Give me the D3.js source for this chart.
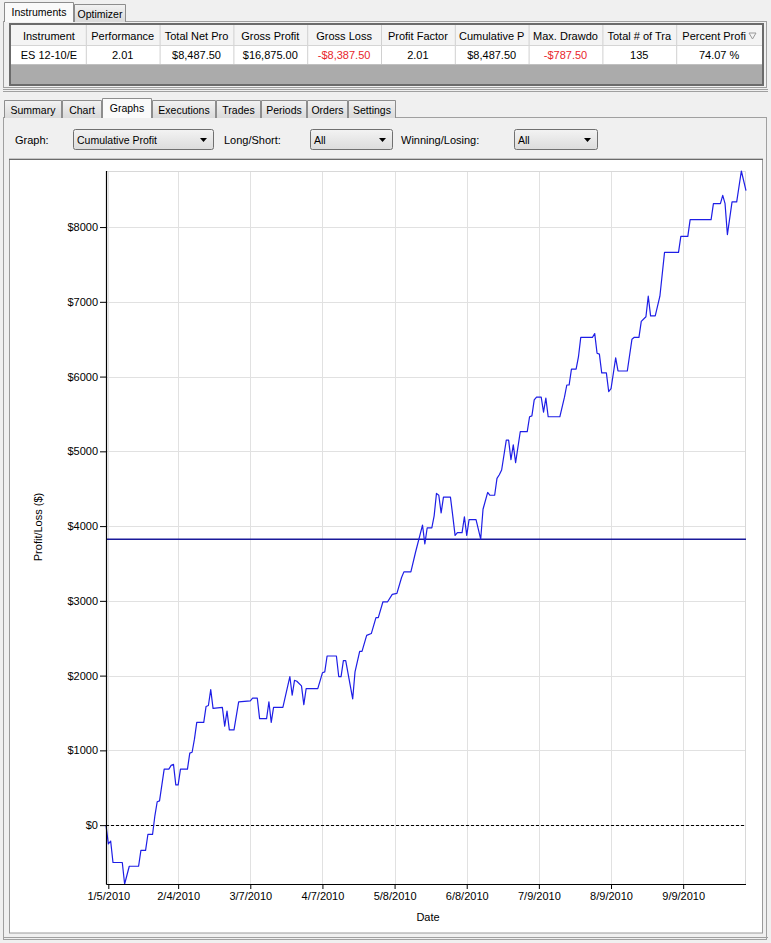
<!DOCTYPE html>
<html>
<head>
<meta charset="utf-8">
<script src="https://cdn.jsdelivr.net/npm/d3@7"></script>
<style>
  body { margin: 0; background: #f0f0f0; }
  svg { display: block; font-family: "Liberation Sans", Arial, sans-serif; }
</style>
</head>
<body>
<div id="app"></div>
<script>
// ---- data ----
const tradeDates = [
  "2010-01-04","2010-01-05","2010-01-06","2010-01-07","2010-01-11","2010-01-12","2010-01-14","2010-01-18",
  "2010-01-19","2010-01-21","2010-01-22","2010-01-24","2010-01-25","2010-01-26","2010-01-27","2010-01-29",
  "2010-01-31","2010-02-01","2010-02-02","2010-02-03","2010-02-04","2010-02-05","2010-02-08","2010-02-09",
  "2010-02-10","2010-02-11","2010-02-12","2010-02-15","2010-02-16","2010-02-17","2010-02-18","2010-02-19",
  "2010-02-23","2010-02-24","2010-02-25","2010-02-26","2010-02-28","2010-03-02","2010-03-07","2010-03-08",
  "2010-03-10","2010-03-11","2010-03-14","2010-03-15","2010-03-16","2010-03-17","2010-03-21","2010-03-24",
  "2010-03-25","2010-03-26","2010-03-27","2010-03-29","2010-03-30","2010-03-31","2010-04-05","2010-04-07",
  "2010-04-08","2010-04-09","2010-04-13","2010-04-14","2010-04-15","2010-04-16","2010-04-17","2010-04-20",
  "2010-04-21","2010-04-23","2010-04-24","2010-04-26","2010-04-28","2010-04-30","2010-05-01","2010-05-03",
  "2010-05-05","2010-05-07","2010-05-09","2010-05-11","2010-05-12","2010-05-15","2010-05-17","2010-05-20",
  "2010-05-21","2010-05-22","2010-05-24","2010-05-25","2010-05-26","2010-05-27","2010-05-28","2010-05-29",
  "2010-06-01","2010-06-02","2010-06-03","2010-06-04","2010-06-06","2010-06-07","2010-06-08","2010-06-09",
  "2010-06-12","2010-06-14","2010-06-15","2010-06-17","2010-06-18","2010-06-20","2010-06-21","2010-06-22",
  "2010-06-23","2010-06-25","2010-06-26","2010-06-27","2010-06-28","2010-06-29","2010-07-01","2010-07-04",
  "2010-07-05","2010-07-06","2010-07-07","2010-07-08","2010-07-10","2010-07-11","2010-07-12","2010-07-13",
  "2010-07-18","2010-07-20","2010-07-21","2010-07-22","2010-07-23","2010-07-25","2010-07-26","2010-07-27",
  "2010-08-01","2010-08-02","2010-08-03","2010-08-04","2010-08-05","2010-08-07","2010-08-08","2010-08-09",
  "2010-08-11","2010-08-12","2010-08-16","2010-08-18","2010-08-19","2010-08-21","2010-08-22","2010-08-24",
  "2010-08-25","2010-08-26","2010-08-28","2010-08-30","2010-09-01","2010-09-07","2010-09-08","2010-09-11",
  "2010-09-12","2010-09-21","2010-09-22","2010-09-25","2010-09-26","2010-09-27","2010-09-28","2010-09-30",
  "2010-10-02","2010-10-04","2010-10-06"
];
const cumProfit = [
  0,-250,-212.5,-500,-500,-787.5,-550,-550,
  -337.5,-337.5,-125,-125,125,312.5,325,750,
  750,800,812.5,537.5,537.5,750,750,962.5,
  975,1150,1375,1375,1587.5,1600,1812.5,1562.5,
  1575,1325,1525,1275,1275,1650,1662.5,1700,
  1700,1425,1425,1650,1375,1575,1575,1987.5,
  1737.5,1937.5,1925,1862.5,1612.5,1825,1825,2037.5,
  2050,2262.5,2262.5,1987.5,1987.5,2200,2200,1687.5,
  2050,2325,2325,2537.5,2562.5,2775,2775,2987.5,
  2987.5,3087.5,3100,3312.5,3387.5,3387.5,3650,4012.5,
  3762.5,3975,3975,4137.5,4437.5,4412.5,4175,4387.5,
  4387.5,4137.5,3875,3912.5,3912.5,4125,3875,4087.5,
  4087.5,3825,4225,4450,4412.5,4412.5,4637.5,4687.5,
  4750,5150,5150,4887.5,5087.5,4850,5262.5,5262.5,
  5462.5,5475,5687.5,5725,5725,5525,5712.5,5462.5,
  5462.5,5725,5887.5,5887.5,6100,6100,6262.5,6525,
  6525,6575,6312.5,6300,6050,6050,5800,5837.5,
  6250,6075,6075,6500,6525,6525,6737.5,6800,
  7075,6812.5,6812.5,7075,7662.5,7662.5,7875,7875,
  8100,8100,8312.5,8312.5,8425,8312.5,7900,8337.5,
  8337.5,8750,8487.5
];
const referenceLevel = 3825;
const xTickLabels = ["1/5/2010","2/4/2010","3/7/2010","4/7/2010","5/8/2010","6/8/2010","7/9/2010","8/9/2010","9/9/2010"];
const yTickValues = [0,1000,2000,3000,4000,5000,6000,7000,8000];

const tableColumns = ["Instrument","Performance","Total Net Pro","Gross Profit","Gross Loss","Profit Factor","Cumulative P","Max. Drawdo","Total # of Tra","Percent Profi"];
const tableRow = ["ES 12-10/E","2.01","$8,487.50","$16,875.00","-$8,387.50","2.01","$8,487.50","-$787.50","135","74.07 %"];
const topTabs = ["Instruments","Optimizer"];
const reportTabs = ["Summary","Chart","Graphs","Executions","Trades","Periods","Orders","Settings"];
const filters = [["Graph:","Cumulative Profit"],["Long/Short:","All"],["Winning/Losing:","All"]];

// ---- page ----
const W = 771, H = 943;
const svg = d3.select("#app").append("svg").attr("width", W).attr("height", H);

const defs = svg.append("defs");
const tabGrad = defs.append("linearGradient").attr("id","tabGrad").attr("x1",0).attr("x2",0).attr("y1",0).attr("y2",1);
tabGrad.append("stop").attr("offset","0%").attr("stop-color","#f2f2f2");
tabGrad.append("stop").attr("offset","100%").attr("stop-color","#dadada");
const ddGrad = defs.append("linearGradient").attr("id","ddGrad").attr("x1",0).attr("x2",0).attr("y1",0).attr("y2",1);
ddGrad.append("stop").attr("offset","0%").attr("stop-color","#f3f3f3");
ddGrad.append("stop").attr("offset","100%").attr("stop-color","#dcdcdc");

svg.append("rect").attr("width", W).attr("height", H).attr("fill", "#f0f0f0");

// tabs helper
function drawTabs(g, names, lefts, widths, selected, tabTop, bottom, fontSize) {
  names.forEach((name, i) => {
    const sel = i === selected;
    const x = lefts[i], w = widths[i];
    const y0 = sel ? tabTop - 2 : tabTop;
    g.append("path")
      .attr("d", `M${x + 0.5},${bottom} L${x + 0.5},${y0 + 0.5} L${x + w - 0.5},${y0 + 0.5} L${x + w - 0.5},${bottom}`)
      .attr("fill", sel ? "#fafafa" : "url(#tabGrad)")
      .attr("stroke", "#8d8d8d");
    g.append("text")
      .attr("x", x + w / 2).attr("y", y0 + 14)
      .attr("text-anchor", "middle")
      .style("font-size", fontSize)
      .attr("fill", "#000")
      .text(name);
  });
}

// top panel
const topPanel = svg.append("g");
topPanel.append("rect").attr("x", 3.5).attr("y", 21.5).attr("width", 763).attr("height", 66)
  .attr("fill", "#f0f0f0").attr("stroke", "#a0a0a0");
drawTabs(topPanel, topTabs, [4, 74], [70, 52], 0, 4, 22, "10.5px");
topPanel.append("line").attr("x1", 5).attr("x2", 73).attr("y1", 21.5).attr("y2", 21.5).attr("stroke", "#fafafa");

// results table
const colW = 73.8, tableX = 12;
topPanel.append("rect").attr("x", 10).attr("y", 24).attr("width", 753).attr("height", 61)
  .attr("fill", "#ababab").attr("stroke", "#6b6b6b").attr("stroke-width", 2);
topPanel.append("rect").attr("x", 11).attr("y", 25).attr("width", 751).attr("height", 20).attr("fill", "#f4f4f4");
topPanel.append("rect").attr("x", 11).attr("y", 45).attr("width", 751).attr("height", 19).attr("fill", "#ffffff");
tableColumns.forEach((c, i) => {
  const x = tableX + i * colW;
  const w = i === tableColumns.length - 1 ? 762 - x : colW;
  topPanel.append("text").attr("x", x + w / 2 - (i === 9 ? 5 : 0)).attr("y", 40)
    .attr("text-anchor", "middle").style("font-size", "11px").text(c);
  topPanel.append("text").attr("x", x + w / 2).attr("y", 59)
    .attr("text-anchor", "middle").style("font-size", "11px")
    .attr("fill", tableRow[i].startsWith("-") ? "#e8262b" : "#000")
    .text(tableRow[i]);
  if (i > 0) {
    topPanel.append("line").attr("x1", x + 0.5).attr("x2", x + 0.5).attr("y1", 25).attr("y2", 64)
      .attr("stroke", "#d0d0d0");
  }
});
topPanel.append("line").attr("x1", 11).attr("x2", 762).attr("y1", 45.5).attr("y2", 45.5).attr("stroke", "#d5d5d5");
topPanel.append("line").attr("x1", 11).attr("x2", 762).attr("y1", 64.5).attr("y2", 64.5).attr("stroke", "#c0c0c0");
// sort glyph
topPanel.append("path").attr("d", "M749,33 L756,33 L752.5,39 Z").attr("fill", "none").attr("stroke", "#9a9a9a");

// splitter
svg.append("line").attr("x1", 3).attr("x2", 768).attr("y1", 89.5).attr("y2", 89.5).attr("stroke", "#a0a0a0");
svg.append("line").attr("x1", 3).attr("x2", 768).attr("y1", 91.5).attr("y2", 91.5).attr("stroke", "#a0a0a0");

// report panel
const panel = svg.append("g");
panel.append("rect").attr("x", 3.5).attr("y", 117.5).attr("width", 763).attr("height", 822)
  .attr("fill", "#f0f0f0").attr("stroke", "#a0a0a0");
drawTabs(panel, reportTabs, [4, 62, 102, 152, 216, 261, 307, 348], [58, 40, 50, 64, 45, 46, 41, 48], 2, 100, 118, "10.5px");
panel.append("line").attr("x1", 103).attr("x2", 151).attr("y1", 117.5).attr("y2", 117.5).attr("stroke", "#fafafa");

// filter dropdowns
const ddLabelX = [15, 224, 401], ddX = [73, 310, 514], ddW = [140, 82, 83];
filters.forEach(([label, value], i) => {
  panel.append("text").attr("x", ddLabelX[i]).attr("y", 144).style("font-size", "11px").text(label);
  panel.append("rect").attr("x", ddX[i] + 0.5).attr("y", 129.5).attr("width", ddW[i]).attr("height", 20)
    .attr("rx", 2).attr("fill", "url(#ddGrad)").attr("stroke", "#707070");
  panel.append("text").attr("x", ddX[i] + 4).attr("y", 144).style("font-size", "10.5px").text(value);
  const ax = ddX[i] + ddW[i] - 13;
  panel.append("path").attr("d", `M${ax},138 L${ax + 7},138 L${ax + 3.5},142 Z`).attr("fill", "#000");
});

// chart frame
svg.append("rect").attr("x", 9.5).attr("y", 159).attr("width", 753).attr("height", 774)
  .attr("fill", "#ffffff").attr("stroke", "#9a9a9a");
svg.append("line").attr("x1", 9).attr("x2", 763).attr("y1", 159.5).attr("y2", 159.5).attr("stroke", "#6b6b6b");
svg.append("line").attr("x1", 3).attr("x2", 768).attr("y1", 937.5).attr("y2", 937.5).attr("stroke", "#a0a0a0");

// ---- cumulative profit chart ----
const parseDate = d3.utcParse("%Y-%m-%d");
const parseTick = d3.utcParse("%m/%d/%Y");
const dataset = tradeDates.map((d, i) => ({ date: parseDate(d), value: cumProfit[i] }));

let dimensions = {
  width: W,
  height: H,
  margin: { top: 171, right: 25, bottom: 59, left: 106 }
};
dimensions.boundedWidth = dimensions.width - dimensions.margin.left - dimensions.margin.right;
dimensions.boundedHeight = dimensions.height - dimensions.margin.top - dimensions.margin.bottom;

const xAccessor = d => d.date;
const yAccessor = d => d.value;

const xScale = d3.scaleUtc()
  .domain(d3.extent(dataset, xAccessor))
  .range([0, dimensions.boundedWidth]);

const yScale = d3.scaleLinear()
  .domain(d3.extent(dataset, yAccessor))
  .range([dimensions.boundedHeight, 0]);

const bounds = svg.append("g")
  .attr("transform", `translate(${dimensions.margin.left}, ${dimensions.margin.top})`);

const xTicks = xTickLabels.map(parseTick);

// grid
bounds.append("g").selectAll("line").data(yTickValues).join("line")
  .attr("x1", 0).attr("x2", dimensions.boundedWidth)
  .attr("y1", d => Math.round(yScale(d)) + 0.5).attr("y2", d => Math.round(yScale(d)) + 0.5)
  .attr("stroke", "#e1e1e1");
bounds.append("g").selectAll("line").data(xTicks).join("line")
  .attr("x1", d => Math.round(xScale(d)) + 0.5).attr("x2", d => Math.round(xScale(d)) + 0.5)
  .attr("y1", 0).attr("y2", dimensions.boundedHeight)
  .attr("stroke", "#e1e1e1");
bounds.append("line").attr("x1", 0).attr("x2", dimensions.boundedWidth).attr("y1", 0.5).attr("y2", 0.5)
  .attr("stroke", "#d8d8d8");
bounds.append("line").attr("x1", dimensions.boundedWidth - 0.5).attr("x2", dimensions.boundedWidth - 0.5)
  .attr("y1", 0).attr("y2", dimensions.boundedHeight).attr("stroke", "#d8d8d8");

// zero line
bounds.append("line")
  .attr("x1", 0).attr("x2", dimensions.boundedWidth)
  .attr("y1", Math.round(yScale(0)) + 0.5).attr("y2", Math.round(yScale(0)) + 0.5)
  .attr("stroke", "#000").attr("stroke-dasharray", "3,2");

// reference level
bounds.append("line")
  .attr("x1", 0).attr("x2", dimensions.boundedWidth)
  .attr("y1", yScale(referenceLevel)).attr("y2", yScale(referenceLevel))
  .attr("stroke", "#1a1a9a").attr("stroke-width", 1.4);

// profit line
const lineGenerator = d3.line()
  .x(d => xScale(xAccessor(d)))
  .y(d => yScale(yAccessor(d)));

bounds.append("path")
  .attr("d", lineGenerator(dataset))
  .attr("fill", "none")
  .attr("stroke", "#1e1ee6")
  .attr("stroke-width", 1.2)
  .attr("stroke-linejoin", "round");

// axes
const yAxis = d3.axisLeft(yScale)
  .tickValues(yTickValues)
  .tickSize(6)
  .tickPadding(2)
  .tickFormat(d => "$" + d);
const gYAxis = bounds.append("g").call(yAxis);

const xAxis = d3.axisBottom(xScale)
  .tickValues(xTicks)
  .tickSize(5)
  .tickPadding(3)
  .tickFormat(d3.utcFormat("%-m/%-d/%Y"));
const gXAxis = bounds.append("g")
  .attr("transform", `translate(0, ${dimensions.boundedHeight})`)
  .call(xAxis);

[gXAxis, gYAxis].forEach(g => {
  g.selectAll("text").style("font-size", "11px").attr("fill", "#000")
    .style("font-family", '"Liberation Sans", Arial, sans-serif');
  g.selectAll("line").attr("stroke", "#000");
  g.select(".domain").attr("stroke", "#000").attr("stroke-width", 1.2);
});
gXAxis.select(".domain").attr("d", `M0.5,0.5H${dimensions.boundedWidth}`);
gYAxis.select(".domain").attr("d", `M0.5,0V${dimensions.boundedHeight + 0.5}`);

// axis titles
gXAxis.append("text")
  .attr("x", dimensions.boundedWidth / 2 + 2)
  .attr("y", 37)
  .attr("fill", "#000")
  .attr("text-anchor", "middle")
  .style("font-size", "11px")
  .text("Date");

gYAxis.append("text")
  .attr("transform", `translate(${42 - dimensions.margin.left}, ${527 - dimensions.margin.top}) rotate(-90)`)
  .attr("fill", "#000")
  .attr("text-anchor", "middle")
  .style("font-size", "11px")
  .text("Profit/Loss ($)");
</script>
</body>
</html>
